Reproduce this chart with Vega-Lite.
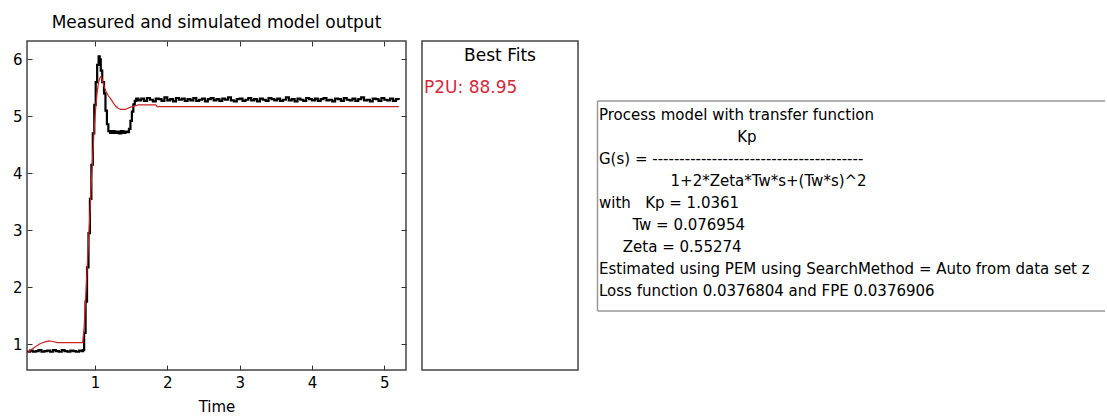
{
  "$schema": "https://vega.github.io/schema/vega-lite/v6.json",
  "padding": {"left": 11, "top": 12, "right": 0, "bottom": 0},
  "background": "white",
  "config": {
    "font": "DejaVu Sans",
    "view": {"stroke": "#444", "strokeWidth": 1.5},
    "axis": {"labelFont": "DejaVu Sans", "titleFont": "DejaVu Sans", "grid": false},
    "text": {"font": "DejaVu Sans"}
  },
  "datasets": {
    "measured": [
      {"t": 0.06, "y": 0.87}, {"t": 0.1, "y": 0.89}, {"t": 0.14, "y": 0.87}, {"t": 0.18, "y": 0.88},
      {"t": 0.22, "y": 0.9}, {"t": 0.26, "y": 0.87}, {"t": 0.3, "y": 0.88}, {"t": 0.34, "y": 0.89},
      {"t": 0.38, "y": 0.87}, {"t": 0.42, "y": 0.9}, {"t": 0.46, "y": 0.88}, {"t": 0.5, "y": 0.87},
      {"t": 0.54, "y": 0.9}, {"t": 0.58, "y": 0.88}, {"t": 0.62, "y": 0.87}, {"t": 0.66, "y": 0.89},
      {"t": 0.7, "y": 0.88}, {"t": 0.74, "y": 0.87}, {"t": 0.78, "y": 0.89}, {"t": 0.82, "y": 0.88},
      {"t": 0.835, "y": 0.9}, {"t": 0.85, "y": 1.2}, {"t": 0.87, "y": 1.75}, {"t": 0.89, "y": 2.35},
      {"t": 0.91, "y": 2.95}, {"t": 0.93, "y": 3.55}, {"t": 0.95, "y": 4.15}, {"t": 0.97, "y": 4.7},
      {"t": 0.99, "y": 5.2}, {"t": 1.01, "y": 5.6}, {"t": 1.03, "y": 5.9}, {"t": 1.05, "y": 6.05},
      {"t": 1.065, "y": 6.0}, {"t": 1.08, "y": 5.8}, {"t": 1.1, "y": 5.6}, {"t": 1.125, "y": 5.4},
      {"t": 1.145, "y": 5.1}, {"t": 1.165, "y": 4.86}, {"t": 1.185, "y": 4.74}, {"t": 1.21, "y": 4.71},
      {"t": 1.24, "y": 4.74}, {"t": 1.27, "y": 4.71}, {"t": 1.3, "y": 4.73}, {"t": 1.33, "y": 4.7},
      {"t": 1.36, "y": 4.74}, {"t": 1.39, "y": 4.71}, {"t": 1.42, "y": 4.73}, {"t": 1.45, "y": 4.72},
      {"t": 1.47, "y": 4.78}, {"t": 1.49, "y": 4.92}, {"t": 1.51, "y": 5.08}, {"t": 1.53, "y": 5.21},
      {"t": 1.55, "y": 5.27}, {"t": 1.57, "y": 5.31},
      {"t": 1.6, "y": 5.28}, {"t": 1.64, "y": 5.31}, {"t": 1.68, "y": 5.27}, {"t": 1.72, "y": 5.32},
      {"t": 1.76, "y": 5.29}, {"t": 1.8, "y": 5.26}, {"t": 1.84, "y": 5.31}, {"t": 1.88, "y": 5.3},
      {"t": 1.92, "y": 5.27}, {"t": 1.96, "y": 5.33}, {"t": 2.0, "y": 5.28}, {"t": 2.04, "y": 5.3},
      {"t": 2.08, "y": 5.26}, {"t": 2.12, "y": 5.32}, {"t": 2.16, "y": 5.29}, {"t": 2.2, "y": 5.31},
      {"t": 2.24, "y": 5.27}, {"t": 2.28, "y": 5.3}, {"t": 2.32, "y": 5.28}, {"t": 2.36, "y": 5.32},
      {"t": 2.4, "y": 5.27}, {"t": 2.44, "y": 5.29}, {"t": 2.48, "y": 5.31}, {"t": 2.52, "y": 5.26},
      {"t": 2.56, "y": 5.3}, {"t": 2.6, "y": 5.32}, {"t": 2.64, "y": 5.28}, {"t": 2.68, "y": 5.3},
      {"t": 2.72, "y": 5.27}, {"t": 2.76, "y": 5.31}, {"t": 2.8, "y": 5.29}, {"t": 2.84, "y": 5.33},
      {"t": 2.88, "y": 5.28}, {"t": 2.92, "y": 5.26}, {"t": 2.96, "y": 5.3}, {"t": 3.0, "y": 5.31},
      {"t": 3.04, "y": 5.27}, {"t": 3.08, "y": 5.29}, {"t": 3.12, "y": 5.32}, {"t": 3.16, "y": 5.28},
      {"t": 3.2, "y": 5.3}, {"t": 3.24, "y": 5.26}, {"t": 3.28, "y": 5.31}, {"t": 3.32, "y": 5.29},
      {"t": 3.36, "y": 5.27}, {"t": 3.4, "y": 5.32}, {"t": 3.44, "y": 5.3}, {"t": 3.48, "y": 5.28},
      {"t": 3.52, "y": 5.31}, {"t": 3.56, "y": 5.27}, {"t": 3.6, "y": 5.29}, {"t": 3.64, "y": 5.33},
      {"t": 3.68, "y": 5.28}, {"t": 3.72, "y": 5.3}, {"t": 3.76, "y": 5.26}, {"t": 3.8, "y": 5.31},
      {"t": 3.84, "y": 5.29}, {"t": 3.88, "y": 5.27}, {"t": 3.92, "y": 5.32}, {"t": 3.96, "y": 5.3},
      {"t": 4.0, "y": 5.28}, {"t": 4.04, "y": 5.31}, {"t": 4.08, "y": 5.27}, {"t": 4.12, "y": 5.3},
      {"t": 4.16, "y": 5.32}, {"t": 4.2, "y": 5.28}, {"t": 4.24, "y": 5.29}, {"t": 4.28, "y": 5.26},
      {"t": 4.32, "y": 5.31}, {"t": 4.36, "y": 5.3}, {"t": 4.4, "y": 5.27}, {"t": 4.44, "y": 5.32},
      {"t": 4.48, "y": 5.29}, {"t": 4.52, "y": 5.28}, {"t": 4.56, "y": 5.31}, {"t": 4.6, "y": 5.27},
      {"t": 4.64, "y": 5.3}, {"t": 4.68, "y": 5.33}, {"t": 4.72, "y": 5.28}, {"t": 4.76, "y": 5.29},
      {"t": 4.8, "y": 5.26}, {"t": 4.84, "y": 5.31}, {"t": 4.88, "y": 5.3}, {"t": 4.92, "y": 5.27},
      {"t": 4.96, "y": 5.32}, {"t": 5.0, "y": 5.29}, {"t": 5.04, "y": 5.28}, {"t": 5.08, "y": 5.31},
      {"t": 5.12, "y": 5.27}, {"t": 5.16, "y": 5.3}, {"t": 5.2, "y": 5.29}
    ],
    "simulated": [
      {"t": 0.06, "y": 0.85}, {"t": 0.12, "y": 0.91}, {"t": 0.18, "y": 0.96}, {"t": 0.24, "y": 1.01},
      {"t": 0.3, "y": 1.04}, {"t": 0.36, "y": 1.06}, {"t": 0.42, "y": 1.05}, {"t": 0.48, "y": 1.03},
      {"t": 0.6, "y": 1.03}, {"t": 0.7, "y": 1.03}, {"t": 0.83, "y": 1.03}, {"t": 0.85, "y": 1.3},
      {"t": 0.87, "y": 1.8}, {"t": 0.89, "y": 2.3}, {"t": 0.91, "y": 2.8}, {"t": 0.93, "y": 3.3},
      {"t": 0.95, "y": 3.85}, {"t": 0.97, "y": 4.35}, {"t": 0.99, "y": 4.8}, {"t": 1.01, "y": 5.15},
      {"t": 1.03, "y": 5.42}, {"t": 1.05, "y": 5.6}, {"t": 1.07, "y": 5.68}, {"t": 1.085, "y": 5.7},
      {"t": 1.1, "y": 5.64}, {"t": 1.125, "y": 5.53}, {"t": 1.15, "y": 5.44}, {"t": 1.185, "y": 5.36},
      {"t": 1.22, "y": 5.3}, {"t": 1.255, "y": 5.23}, {"t": 1.285, "y": 5.18}, {"t": 1.32, "y": 5.14},
      {"t": 1.355, "y": 5.12}, {"t": 1.42, "y": 5.12}, {"t": 1.49, "y": 5.16}, {"t": 1.55, "y": 5.18},
      {"t": 1.6, "y": 5.2}, {"t": 1.84, "y": 5.2}, {"t": 1.86, "y": 5.17}, {"t": 5.2, "y": 5.17}
    ],
    "fits": [
      {"line": 1, "label": "Best Fits", "kind": "header"},
      {"line": 2, "label": "P2U: 88.95", "kind": "fit"}
    ],
    "info": [
      {"line": 1, "label": "Process model with transfer function"},
      {"line": 2, "label": "\u200b\u00a0\u00a0\u00a0\u00a0\u00a0\u00a0\u00a0\u00a0\u00a0\u00a0\u00a0\u00a0\u00a0\u00a0\u00a0\u00a0\u00a0\u00a0\u00a0\u00a0\u00a0\u00a0\u00a0\u00a0\u00a0\u00a0\u00a0\u00a0\u00a0Kp"},
      {"line": 3, "label": "G(s) = ---------------------------------------"},
      {"line": 4, "label": "\u200b\u00a0\u00a0\u00a0\u00a0\u00a0\u00a0\u00a0\u00a0\u00a0\u00a0\u00a0\u00a0\u00a0\u00a0\u00a01+2*Zeta*Tw*s+(Tw*s)^2"},
      {"line": 5, "label": "with\u00a0\u00a0\u00a0Kp = 1.0361"},
      {"line": 6, "label": "\u200b\u00a0\u00a0\u00a0\u00a0\u00a0\u00a0\u00a0Tw = 0.076954"},
      {"line": 7, "label": "\u200b\u00a0\u00a0\u00a0\u00a0\u00a0Zeta = 0.55274"},
      {"line": 8, "label": "Estimated using PEM using SearchMethod = Auto from data set z"},
      {"line": 9, "label": "Loss function 0.0376804 and FPE 0.0376906"}
    ]
  },
  "spacing": 16,
  "bounds": "flush",
  "hconcat": [
    {
      "width": 379,
      "height": 329,
      "title": {"text": "Measured and simulated model output", "fontSize": 17, "fontWeight": "normal", "font": "DejaVu Sans", "color": "#000", "anchor": "middle", "baseline": "alphabetic", "offset": -4},
      "resolve": {"axis": {"x": "independent", "y": "independent"}},
      "layer": [
        {
          "data": {"name": "measured"},
          "mark": {"type": "line", "color": "#000", "strokeWidth": 2.2, "interpolate": "step-after"},
          "encoding": {
            "x": {"field": "t", "type": "quantitative", "scale": {"domain": [0.06, 5.3], "nice": false, "zero": false},
              "axis": {"orient": "bottom", "values": [1, 2, 3, 4, 5], "tickSize": -5, "labelPadding": 10, "domain": false, "tickColor": "#333", "labelColor": "#000", "labelFontSize": 15, "title": "Time", "titleFontSize": 15, "titleFontWeight": "normal", "titleColor": "#000", "titlePadding": 9, "labelFlush": false}},
            "y": {"field": "y", "type": "quantitative", "scale": {"domain": [0.55, 6.32], "nice": false, "zero": false},
              "axis": {"orient": "left", "values": [1, 2, 3, 4, 5, 6], "tickSize": -5, "labelPadding": 10, "domain": false, "tickColor": "#333", "labelColor": "#000", "labelFontSize": 15, "title": null}}
          }
        },
        {
          "data": {"name": "simulated"},
          "mark": {"type": "line", "color": "#cc2222", "strokeWidth": 1.2},
          "encoding": {
            "x": {"field": "t", "type": "quantitative",
              "axis": {"orient": "top", "values": [1, 2, 3, 4, 5], "tickSize": -5, "labels": false, "domain": false, "tickColor": "#333", "title": null, "minExtent": 0}},
            "y": {"field": "y", "type": "quantitative",
              "axis": {"orient": "right", "values": [1, 2, 3, 4, 5, 6], "tickSize": -5, "labels": false, "domain": false, "tickColor": "#333", "title": null, "minExtent": 0}}
          }
        }
      ]
    },
    {
      "spacing": 19,
      "bounds": "flush",
      "center": true,
      "hconcat": [
        {
          "width": 156,
          "height": 329,
          "data": {"name": "fits"},
          "layer": [
            {
              "transform": [{"filter": "datum.kind === 'header'"}],
              "mark": {"type": "text", "align": "center", "baseline": "middle", "fontSize": 17, "color": "#000"},
              "encoding": {
                "x": {"datum": 0.5, "type": "quantitative", "scale": {"domain": [0, 1]}, "axis": null},
                "y": {"field": "line", "type": "quantitative", "scale": {"domain": [0.527, 10.905], "reverse": true, "nice": false, "zero": false}, "axis": null},
                "text": {"field": "label"}
              }
            },
            {
              "transform": [{"filter": "datum.kind === 'fit'"}],
              "mark": {"type": "text", "align": "left", "baseline": "middle", "fontSize": 17, "color": "#d42a3c", "dx": 2},
              "encoding": {
                "x": {"datum": 0, "type": "quantitative"},
                "y": {"field": "line", "type": "quantitative"},
                "text": {"field": "label"}
              }
            }
          ]
        },
        {
          "width": 508,
          "height": 210,
          "view": {"stroke": null},
          "data": {"name": "info"},
          "resolve": {"axis": {"x": "independent"}},
          "layer": [
            {
              "mark": {"type": "text", "align": "left", "baseline": "middle", "fontSize": 15, "color": "#000", "dx": 2},
              "encoding": {
                "x": {"datum": 0, "type": "quantitative", "scale": {"domain": [0, 1]},
                  "axis": {"orient": "top", "domain": true, "domainColor": "#999", "domainWidth": 1.5, "ticks": false, "labels": false, "title": null}},
                "y": {"field": "line", "type": "quantitative", "scale": {"domain": [0.3636, 9.909], "reverse": true, "nice": false, "zero": false},
                  "axis": {"orient": "left", "domain": true, "domainColor": "#999", "domainWidth": 1.5, "ticks": false, "labels": false, "title": null}},
                "text": {"field": "label"}
              }
            },
            {
              "transform": [{"filter": "false"}],
              "mark": {"type": "point", "opacity": 0},
              "encoding": {
                "x": {"datum": 0, "type": "quantitative",
                  "axis": {"orient": "bottom", "domain": true, "domainColor": "#999", "domainWidth": 1.5, "ticks": false, "labels": false, "title": null}}
              }
            }
          ]
        }
      ]
    }
  ]
}
